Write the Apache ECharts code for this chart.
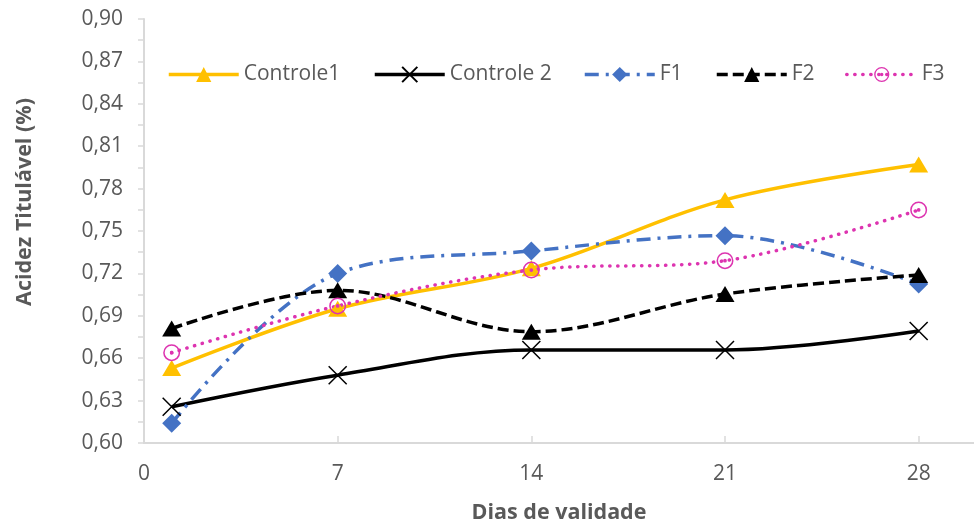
<!DOCTYPE html>
<html>
<head>
<meta charset="utf-8">
<script src="https://cdn.jsdelivr.net/npm/echarts@6/dist/echarts.min.js"></script>
<style>
html,body{margin:0;padding:0;background:#fff;}
#chart{width:974px;height:529px;}
</style>
</head>
<body>
<div id="chart"></div>
<script>
// ---- data ----
var days = [1, 7, 14, 21, 28];
var xTickLabels = [0, 7, 14, 21, 28];
var seriesNames = ['Controle1', 'Controle 2', 'F1', 'F2', 'F3'];
var controle1 = [0.653, 0.695, 0.7236, 0.772, 0.797];
var controle2 = [0.6257, 0.648, 0.6658, 0.6658, 0.6792];
var f1 = [0.614, 0.720, 0.7359, 0.7467, 0.7125];
var f2 = [0.681, 0.708, 0.6788, 0.7054, 0.7189];
var f3 = [0.6639, 0.697, 0.7224, 0.729, 0.7649];
var yTickMin = 0.60, yTickMax = 0.90, yTickStep = 0.03;

function pairs(vals){ return days.map(function(d,i){ return [d, vals[i]]; }); }

var FONT = '"Open Sans", sans-serif';
var TXT = '#595959';
var AX = '#d9d9d9';

var xPath = 'path://M0,0L10,10M10,0L0,10';
var targetPath = 'path://M10,0A10,10 0 1,1 10,20A10,10 0 1,1 10,0Z M10,1.8A8.2,8.2 0 1,0 10,18.2A8.2,8.2 0 1,0 10,1.8Z M10,7.8A2.2,2.2 0 1,1 10,12.2A2.2,2.2 0 1,1 10,7.8Z';

var chart = echarts.init(document.getElementById('chart'), null, {renderer:'canvas'});

var legendLefts = [162, 368, 578, 710, 840];
var legends = seriesNames.map(function(n, i){
  return {
    data: [n], left: legendLefts[i], top: 59, itemWidth: 70, itemHeight: 19,
    lineStyle: {width: 3.5},
    textStyle: {fontFamily: FONT, fontSize: 21, color: TXT},
    selectedMode: false
  };
});

var option = {
  animation: false,
  backgroundColor: '#ffffff',
  legend: legends,
  grid: {left: 144, right: 0, top: 19, bottom: 86, containLabel: false},
  graphic: [{
    type: 'text', x: 25, y: 202, rotation: Math.PI/2,
    style: {text: 'Acidez Titulável (%)', fontFamily: FONT, fontSize: 21.5, fontWeight: 'bold', fill: TXT, align: 'center', verticalAlign: 'middle'}
  }],
  xAxis: {
    type: 'value', min: 0, max: 30, interval: 7,
    name: 'Dias de validade', nameLocation: 'middle', nameGap: 59,
    nameTextStyle: {fontFamily: FONT, fontSize: 21.5, fontWeight: 'bold', color: TXT},
    axisLine: {show: true, lineStyle: {color: AX, width: 2}},
    axisTick: {show: true, inside: true, length: 7, lineStyle: {color: AX, width: 1.5}},
    axisLabel: {fontFamily: FONT, fontSize: 21, color: TXT, margin: 21, showMaxLabel: false,
      formatter: function(v){ return xTickLabels.indexOf(v) >= 0 ? String(v) : ''; }},
    splitLine: {show: false}
  },
  yAxis: {
    type: 'value', min: yTickMin, max: yTickMax, interval: yTickStep,
    axisLine: {show: true, lineStyle: {color: AX, width: 2}},
    axisTick: {show: true, length: 6, lineStyle: {color: AX, width: 1.5}},
    minorTick: {show: true, splitNumber: 2, length: 6, lineStyle: {color: AX, width: 1.5}},
    axisLabel: {fontFamily: FONT, fontSize: 21, color: TXT, margin: 21,
      formatter: function(v){ return v.toFixed(2).replace('.', ','); }},
    splitLine: {show: false}
  },
  series: [
    {name: 'Controle1', type: 'line', data: pairs(controle1), smooth: 0.35,
     symbol: 'triangle', symbolSize: [19, 16],
     lineStyle: {color: '#FFC000', width: 3.5},
     itemStyle: {color: '#FFC000'}},
    {name: 'Controle 2', type: 'line', data: pairs(controle2), smooth: 0.35,
     symbol: xPath, symbolSize: 18,
     lineStyle: {color: '#000000', width: 3.5},
     itemStyle: {color: '#000000', borderColor: '#000000', borderWidth: 1.5}},
    {name: 'F1', type: 'line', data: pairs(f1), smooth: 0.35,
     symbol: 'diamond', symbolSize: 19,
     lineStyle: {color: '#4472C4', width: 3.5, type: [14, 7, 3, 7]},
     itemStyle: {color: '#4472C4'}},
    {name: 'F2', type: 'line', data: pairs(f2), smooth: 0.35,
     symbol: 'triangle', symbolSize: [19, 16],
     lineStyle: {color: '#000000', width: 3.5, type: [11, 5]},
     itemStyle: {color: '#000000'}},
    {name: 'F3', type: 'line', data: pairs(f3), smooth: 0.35,
     symbol: targetPath, symbolSize: 17,
     lineStyle: {color: '#DD34B0', width: 3.5, type: [0.3, 7.7], cap: 'round'},
     itemStyle: {color: '#DD34B0'}}
  ]
};
chart.setOption(option);
</script>
</body>
</html>
